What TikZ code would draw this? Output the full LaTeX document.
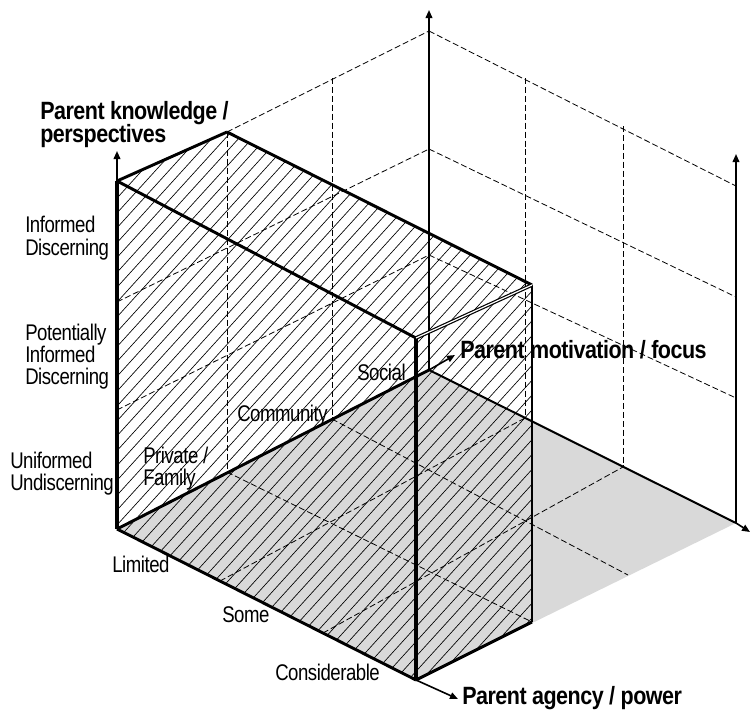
\documentclass[tikz,border=0pt]{standalone}
\usepackage{fontspec}
\setmainfont{Liberation Sans}
\newfontfamily\lblfont{Liberation Sans}[FakeStretch=0.82, LetterSpace=-2]
\newfontfamily\headfont{Liberation Sans}[FakeStretch=0.86, LetterSpace=-2]
\usetikzlibrary{arrows.meta}
\definecolor{floorgray}{HTML}{D9D9D9}
\tikzset{
  lbl/.style={font={\lblfont\fontsize{17}{18}\selectfont}, inner sep=0pt, anchor=base west},
  head/.style={font={\headfont\bfseries\fontsize{18.75}{19}\selectfont}, inner sep=0pt, anchor=base west},
  gridline/.style={dash pattern=on 4.5pt off 2.2pt, line width=0.6pt},
  hatchline/.style={line width=0.5pt},
  boxedge/.style={line width=2.2pt},
  axisline/.style={line width=1.5pt},
  arrowline/.style={-{Triangle[length=6pt,width=5pt]}, line width=1.2pt}
}
\begin{document}
\begin{tikzpicture}[x=0.75pt,y=-0.75pt]
\useasboundingbox (0,0) rectangle (751,711);
% main points
\coordinate (O) at (117,529);
\coordinate (Ktop) at (117,181);
\coordinate (Ktip) at (117,151);
\coordinate (A3) at (416,680);
\coordinate (Atip) at (458,699);
\coordinate (M3) at (429,370);
\coordinate (Mtip) at (455,355);
\coordinate (M3top) at (429,31);
\coordinate (M3tip) at (429,10);
\coordinate (AM3) at (736,523);
\coordinate (AM3tip) at (750,532);
\coordinate (AM3top) at (736,186);
\coordinate (AM3arrow) at (736,154);
% box points
\coordinate (B1) at (227,132);
\coordinate (B1b) at (227,472);
\coordinate (F2) at (416,338);
\coordinate (B2) at (532,285);
\coordinate (B2b) at (532,622);
% floor
\fill[floorgray] (O) -- (A3) -- (AM3) -- (M3) -- cycle;
% hatching of the box
\begin{scope}
  \clip (Ktop) -- (B1) -- (B2) -- (B2b) -- (A3) -- (O) -- cycle;
  \foreach \c in {270,283.5,...,1110} \draw[hatchline] (\c,0) -- ({\c-646},711);
\end{scope}
% dashed grid: left wall
\draw[gridline] (B1) -- (B1b);
\draw[gridline] (332,78) -- (332,419);
\draw[gridline] (117,410) -- (429,255);
\draw[gridline] (117,302) -- (429,149);
\draw[gridline] (B1) -- (M3top);
% back wall
\draw[gridline] (M3top) -- (AM3top);
\draw[gridline] (429,149) -- (736,297);
\draw[gridline] (429,255) -- (736,398);
\draw[gridline] (525,78) -- (525,418);
\draw[gridline] (623,126) -- (623,467);
% floor
\draw[gridline] (220,581) -- (525,418);
\draw[gridline] (323,633) -- (623,467);
\draw[gridline] (B1b) -- (B2b);
\draw[gridline] (332,419) -- (628,575);
% axes
\draw[arrowline] (Ktop) -- (Ktip);
\draw[arrowline] (A3) -- (Atip);
\draw[arrowline] (M3) -- (Mtip);
\draw[axisline] (M3) -- (M3top);
\draw[arrowline] (M3top) -- (M3tip);
\draw[axisline] (M3) -- (AM3);
\draw[arrowline] (AM3) -- (AM3tip);
\draw[axisline] (AM3) -- (AM3top);
\draw[arrowline] (AM3top) -- (AM3arrow);
% box edges
\draw[boxedge, line width=2.6pt] (O) -- (Ktop);
\draw[boxedge] (O) -- (A3);
\draw[boxedge] (O) -- (M3);
\draw[boxedge] (Ktop) -- (B1);
\draw[boxedge] (B1) -- (B2);
\draw[boxedge] (Ktop) -- (F2);
\draw[boxedge, line width=2.6pt] (F2) -- (A3);
\draw[axisline] (B2) -- (B2b);
\draw[boxedge] (A3) -- (B2b);
\draw[double, line width=0.9pt, double distance=0.9pt] (F2) -- (B2);
% labels
\node[head] (hk1) at (40,119) {Parent knowledge /};
\node[head] (hk2) at (40,142) {perspectives};
\node[head] (hm) at (460,358) {Parent motivation / focus};
\node[head] (ha) at (462,704) {Parent agency / power};
\node[lbl] (k3a) at (25,232) {Informed};
\node[lbl] (k3b) at (25,255) {Discerning};
\node[lbl] (k2a) at (25,340) {Potentially};
\node[lbl] (k2b) at (25,362) {Informed};
\node[lbl] (k2c) at (25,384) {Discerning};
\node[lbl] (k1a) at (10,468) {Uniformed};
\node[lbl] (k1b) at (10,490) {Undiscerning};
\node[lbl] (m1a) at (143,463) {Private /};
\node[lbl] (m1b) at (143,485) {Family};
\node[lbl] (m2) at (237,421) {Community};
\node[lbl] (m3) at (357,380) {Social};
\node[lbl] (a1) at (112,572) {Limited};
\node[lbl] (a2) at (222,622) {Some};
\node[lbl] (a3) at (275,680) {Considerable};
\end{tikzpicture}
\end{document}
